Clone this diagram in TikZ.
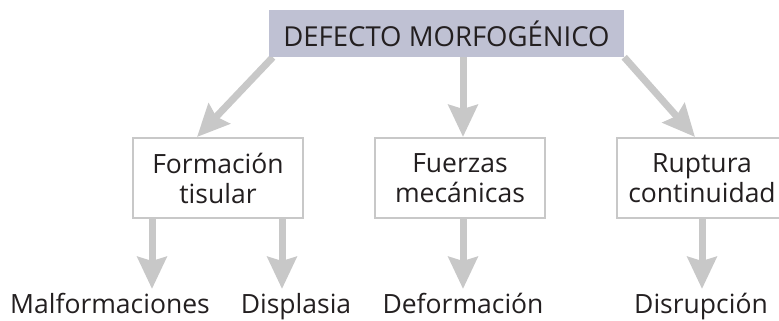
\documentclass[tikz,border=0pt]{standalone}
\usepackage{fontspec}
\setmainfont{Open Sans}
\usetikzlibrary{arrows.meta, positioning, backgrounds}
\usepackage{xcolor}
\definecolor{headfill}{RGB}{191,193,211}
\definecolor{lightgray}{RGB}{200,200,200}
\definecolor{dark}{RGB}{35,31,32}

\begin{document}
\begin{tikzpicture}[
    x=1pt, y=-1pt,
    head/.style={rectangle, minimum width=355pt, minimum height=47pt, text centered, font=\fontsize{27.5}{30}\selectfont, fill=headfill, text=dark},
    cause/.style={rectangle, minimum width=170pt, minimum height=80pt, align=center, font=\fontsize{26.5}{30}\selectfont, fill=white, draw=lightgray, line width=2pt, text=dark},
    result/.style={inner xsep=0pt, inner ysep=0pt, text height=24pt, text depth=4pt, font=\fontsize{26.5}{30}\selectfont, text=dark},
    arr/.style={-{Stealth[length=32pt, width=29pt, inset=4pt]}, line width=7pt, lightgray},
]
\useasboundingbox (0,0) rectangle (779,321);

\node[head] (defect) at (446.5,33.5) {DEFECTO MORFOGÉNICO};

\node[cause] (tisular) at (218,178) {Formación\\tisular};
\node[cause] (mecanica) at (460,178) {Fuerzas\\mecánicas};
\node[cause] (ruptura) at (702,178) {Ruptura\\continuidad};

\node[result, anchor=north] (malform) at (110,289) {Malformaciones};
\node[result, anchor=north] (displasia) at (296,289) {Displasia};
\node[result, anchor=north] (deform) at (463,289) {Deformación};
\node[result, anchor=north] (disrupcion) at (701,289) {Disrupción};

% Arrows
\begin{scope}[on background layer]
\draw[arr] ([xshift=4pt]defect.south west) -- ([xshift=-21pt]tisular.north);
\draw[arr] ([xshift=16.5pt]defect.south) -- ([xshift=3pt]mecanica.north);
\draw[arr] (defect.south east) -- ([xshift=-7pt]ruptura.north);
\end{scope}
\draw[arr] ([xshift=-66pt]tisular.south) -- ([xshift=-66pt]tisular.south |- malform.north);
\draw[arr] ([xshift=64pt]tisular.south) -- ([xshift=64pt]tisular.south |- displasia.north);
\draw[arr] ([xshift=3pt]mecanica.south) -- ([xshift=3pt]mecanica.south |- deform.north);
\draw[arr] (ruptura.south) -- (ruptura.south |- disrupcion.north);

\end{tikzpicture}
\end{document}
